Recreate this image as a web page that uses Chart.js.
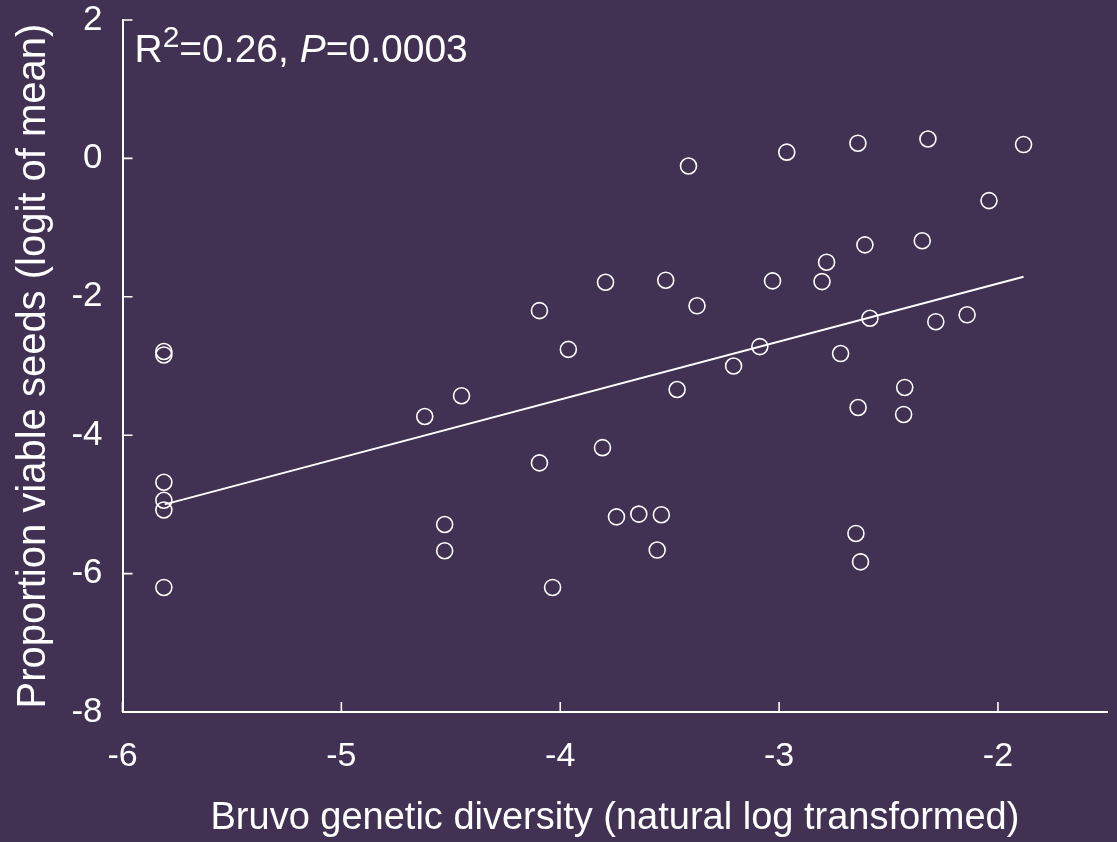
<!DOCTYPE html>
<html>
<head>
<meta charset="utf-8">
<script src="https://cdn.jsdelivr.net/npm/chart.js@4"></script>
<style>
  html, body { margin: 0; padding: 0; background: #413152; }
  #wrap { width: 1117px; height: 842px; position: relative; }
</style>
</head>
<body>
<div id="wrap"><canvas id="seedChart"></canvas></div>
<script>
// ---------- data ----------
const xValues = [
    -5.811, -5.811, -5.811, -5.811, -5.811, -5.811,
    -4.619, -4.451, -4.528, -4.528,
    -4.095, -3.963, -4.095, -4.035,
    -3.793, -3.807, -3.743, -3.641, -3.538, -3.557,
    -3.518, -3.414, -3.375, -3.466,
    -3.208, -3.088, -3.030, -2.965,
    -2.804, -2.783, -2.719,
    -2.640, -2.608, -2.585, -2.639, -2.649, -2.628,
    -2.426, -2.431, -2.346, -2.320, -2.284,
    -2.141, -2.041, -1.883
];
const yValues = [
    -2.79, -2.84, -4.68, -4.94, -5.08, -6.20,
    -3.73, -3.43, -5.29, -5.67,
    -2.20, -2.76, -4.40, -6.20,
    -1.79, -4.18, -5.18, -5.14, -5.15, -5.66,
    -1.76, -0.11, -2.13, -3.34,
    -3.00, -2.72, -1.77, 0.09,
    -1.78, -1.50, -2.82,
    0.22, -1.25, -2.31, -3.60, -5.42, -5.83,
    -3.31, -3.70, -1.19, 0.28, -2.36,
    -2.26, -0.61, 0.20
];
// regression line end points
const fitX = [-5.807, -1.883];
const fitY = [-5.00, -1.71];

const xTicks = [-6, -5, -4, -3, -2];
const yTicks = [-8, -6, -4, -2, 0, 2];

const xTitle = 'Bruvo genetic diversity (natural log transformed)';
const yTitle = 'Proportion viable seeds (logit of mean)';

const BG = '#413152';
const FG = '#ffffff';
const FONT = '"Liberation Sans", Arial, sans-serif';

// ---------- plugins ----------
const background = {
    id: 'background',
    beforeDraw(chart) {
        const ctx = chart.ctx;
        ctx.save();
        ctx.fillStyle = BG;
        ctx.fillRect(0, 0, chart.width, chart.height);
        ctx.restore();
    }
};

// tick marks pointing into the plot
const innerTicks = {
    id: 'innerTicks',
    afterDraw(chart) {
        const ctx = chart.ctx;
        const { x, y } = chart.scales;
        const area = chart.chartArea;
        ctx.save();
        ctx.strokeStyle = FG;
        ctx.lineWidth = 1.6;
        ctx.beginPath();
        xTicks.forEach(v => {
            const px = x.getPixelForValue(v);
            ctx.moveTo(px, area.bottom);
            ctx.lineTo(px, area.bottom - 10);
        });
        yTicks.forEach(v => {
            const py = y.getPixelForValue(v);
            ctx.moveTo(area.left, py);
            ctx.lineTo(area.left + 10, py);
        });
        ctx.stroke();
        ctx.restore();
    }
};

// R^2 / P label in the top-left corner
const statsLabel = {
    id: 'statsLabel',
    afterDraw(chart) {
        const ctx = chart.ctx;
        const area = chart.chartArea;
        let cx = area.left + 12;
        const base = area.top + 42;
        ctx.save();
        ctx.fillStyle = FG;
        ctx.textBaseline = 'alphabetic';
        const parts = [
            { t: 'R', f: '39px ' + FONT, dy: 0 },
            { t: '2', f: '30px ' + FONT, dy: -15 },
            { t: '=0.26, ', f: '39px ' + FONT, dy: 0 },
            { t: 'P', f: 'italic 39px ' + FONT, dy: 0 },
            { t: '=0.0003', f: '39px ' + FONT, dy: 0 }
        ];
        parts.forEach(p => {
            ctx.font = p.f;
            ctx.fillText(p.t, cx, base + p.dy);
            cx += ctx.measureText(p.t).width;
        });
        ctx.restore();
    }
};

// ---------- chart ----------
const points = xValues.map((v, i) => ({ x: v, y: yValues[i] }));
const fitLine = fitX.map((v, i) => ({ x: v, y: fitY[i] }));

new Chart(document.getElementById('seedChart'), {
    type: 'scatter',
    data: {
        datasets: [
            {
                data: points,
                pointRadius: 8,
                pointBorderWidth: 1.6,
                pointBorderColor: FG,
                pointBackgroundColor: 'rgba(0,0,0,0)',
                showLine: false
            },
            {
                data: fitLine,
                showLine: true,
                borderColor: FG,
                borderWidth: 2,
                pointRadius: 0
            }
        ]
    },
    options: {
        responsive: true,
        maintainAspectRatio: false,
        animation: false,
        layout: { padding: { top: 20, right: 5, left: 0, bottom: 0 } },
        plugins: { legend: { display: false }, tooltip: { enabled: false } },
        scales: {
            x: {
                type: 'linear',
                min: -6,
                max: -1.5,
                grid: { display: false, drawTicks: false },
                border: { display: true, color: FG, width: 2 },
                afterBuildTicks: scale => { scale.ticks = xTicks.map(v => ({ value: v })); },
                afterFit: scale => {
                    scale.height = 130;
                    scale.paddingLeft = 0;
                    scale.paddingRight = 0;
                },
                ticks: { color: FG, font: { family: FONT, size: 34 }, padding: 24 },
                title: {
                    display: true,
                    text: xTitle,
                    color: FG,
                    font: { family: FONT, size: 38 },
                    padding: { top: 0, bottom: 1 }
                }
            },
            y: {
                type: 'linear',
                min: -8,
                max: 2,
                grid: { display: false, drawTicks: false },
                border: { display: true, color: FG, width: 2 },
                afterBuildTicks: scale => { scale.ticks = yTicks.map(v => ({ value: v })); },
                afterFit: scale => {
                    scale.width = 122.5;
                    scale.paddingTop = 0;
                    scale.paddingBottom = 0;
                },
                ticks: { color: FG, font: { family: FONT, size: 35 }, padding: 20 },
                title: {
                    display: true,
                    text: yTitle,
                    color: FG,
                    font: { family: FONT, size: 40 },
                    padding: { top: 10 }
                }
            }
        }
    },
    plugins: [background, innerTicks, statsLabel]
});
</script>
</body>
</html>
